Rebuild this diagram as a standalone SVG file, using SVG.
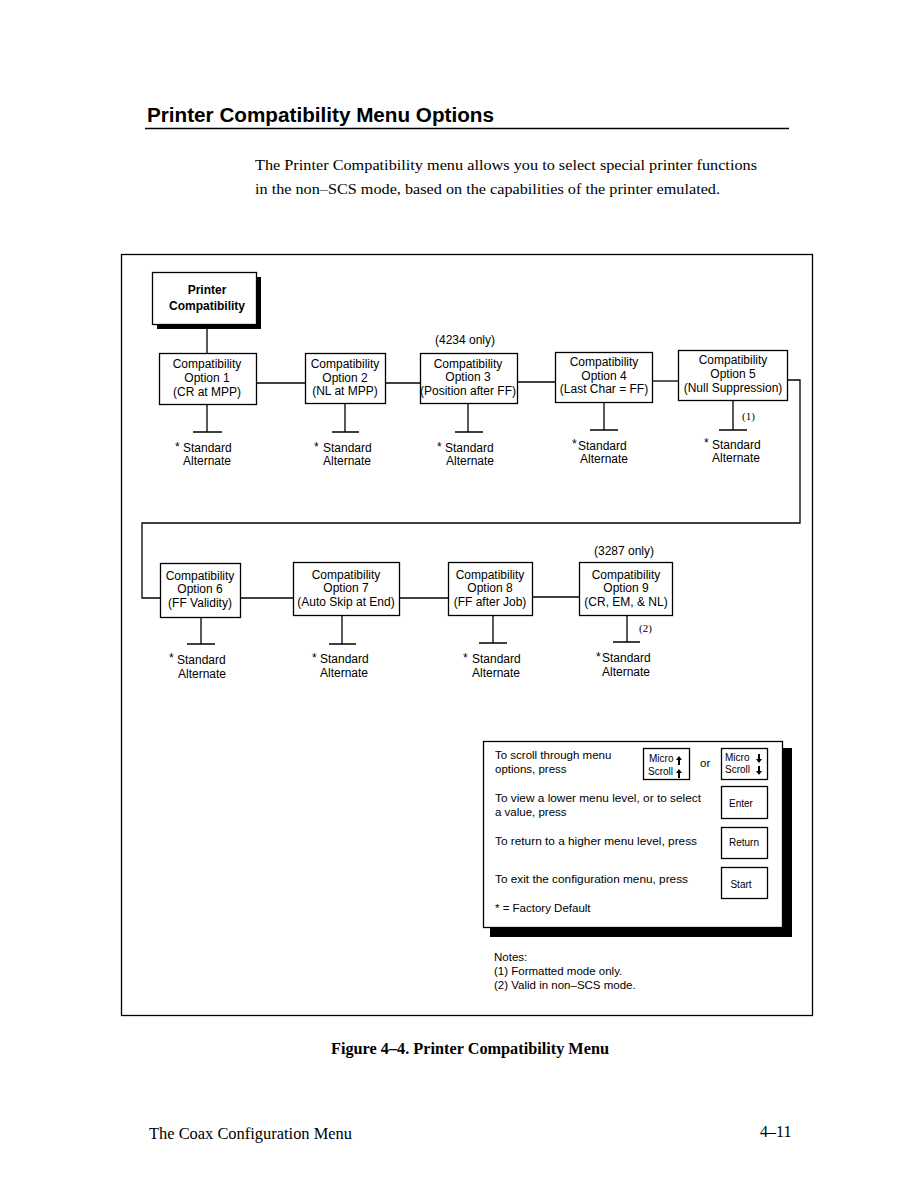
<svg xmlns="http://www.w3.org/2000/svg" width="918" height="1188" viewBox="0 0 918 1188">
<style>
.bx{fill:#fff;stroke:#000;stroke-width:1.3}
.ln{fill:none;stroke:#000;stroke-width:1.3}
.t{font-family:"Liberation Sans",Arial,sans-serif;font-size:12px;fill:#000}
.c{text-anchor:middle}
.s{font-family:"Liberation Sans",Arial,sans-serif;font-size:11.5px;fill:#000}
.k{font-family:"Liberation Sans",Arial,sans-serif;font-size:10px;fill:#000}
.sr{font-family:"Liberation Serif","Times New Roman",serif;fill:#000}
</style>
<rect width="918" height="1188" fill="#fff"/>
<g id="header">
<text x="147" y="122" font-family="Liberation Sans,Arial,sans-serif" font-weight="bold" font-size="20" textLength="347" lengthAdjust="spacingAndGlyphs">Printer Compatibility Menu Options</text>
<line x1="145" y1="128.5" x2="789" y2="128.5" stroke="#000" stroke-width="1.6"/>
<text class="sr" x="255" y="170" font-size="15" textLength="502" lengthAdjust="spacingAndGlyphs">The Printer Compatibility menu allows you to select special printer functions</text>
<text class="sr" x="255" y="194" font-size="15" textLength="465" lengthAdjust="spacingAndGlyphs">in the non–SCS mode, based on the capabilities of the printer emulated.</text>
</g>
<rect id="frame" x="121.5" y="254.5" width="691" height="761" fill="none" stroke="#000" stroke-width="1.3"/>
<g id="connectors">
<line class="ln" x1="207" y1="327" x2="207" y2="353"/>
<polyline class="ln" points="256,383 305,383"/>
<polyline class="ln" points="385,383 420,383"/>
<polyline class="ln" points="517,382 555,382"/>
<polyline class="ln" points="652,381 678,381"/>
<polyline class="ln" points="787,380 800,380 800,523 142,523 142,598 160,598"/>
<polyline class="ln" points="240,598 293,598"/>
<polyline class="ln" points="399,598 448,598"/>
<polyline class="ln" points="532,597 579,597"/>
<path class="ln" d="M207,404V432M193,432H222M345,403V432M332,432H359M468,403V432M455,432H483M604,402V430M590,430H618M733,401V430M719,430H747"/>
<path class="ln" d="M201,617V644M187,644H215M342,615V644M329,644H356M493,615V643M479,643H507M627,615V642M613,642H640"/>
</g>
<g id="root">
<rect x="157" y="277" width="104" height="52" fill="#000"/>
<rect class="bx" x="152.5" y="272.5" width="104" height="52"/>
<text class="t c" x="207" y="294" font-weight="bold" font-size="13">Printer</text>
<text class="t c" x="207" y="310" font-weight="bold" font-size="13">Compatibility</text>
</g>
<g id="opt1">
<rect class="bx" x="159.5" y="353.5" width="97" height="51"/>
<text class="t c" x="207" y="368">Compatibility</text>
<text class="t c" x="207" y="382">Option 1</text>
<text class="t c" x="207" y="396">(CR at MPP)</text>
<text class="t" x="175" y="451">*</text><text class="t" x="183" y="452">Standard</text><text class="t" x="183" y="465">Alternate</text>
</g>
<g id="opt2">
<rect class="bx" x="305.5" y="353.5" width="80" height="50"/>
<text class="t c" x="345" y="368">Compatibility</text>
<text class="t c" x="345" y="382">Option 2</text>
<text class="t c" x="345" y="395" font-size="11.5">(NL at MPP)</text>
<text class="t" x="314" y="451">*</text><text class="t" x="323" y="452">Standard</text><text class="t" x="323" y="465">Alternate</text>
</g>
<g id="opt3">
<text class="t c" x="465" y="344">(4234 only)</text>
<rect class="bx" x="420.5" y="353.5" width="97" height="50"/>
<text class="t c" x="468" y="368">Compatibility</text>
<text class="t c" x="468" y="381">Option 3</text>
<text class="t c" x="468" y="395" font-size="11.5" textLength="96" lengthAdjust="spacingAndGlyphs">(Position after FF)</text>
<text class="t" x="437" y="451">*</text><text class="t" x="445" y="452">Standard</text><text class="t" x="446" y="465">Alternate</text>
</g>
<g id="opt4">
<rect class="bx" x="555.5" y="352.5" width="97" height="50"/>
<text class="t c" x="604" y="366">Compatibility</text>
<text class="t c" x="604" y="380">Option 4</text>
<text class="t c" x="604" y="393" font-size="11.5">(Last Char = FF)</text>
<text class="t" x="572" y="448">*</text><text class="t" x="578" y="450">Standard</text><text class="t" x="580" y="463">Alternate</text>
</g>
<g id="opt5">
<rect class="bx" x="678.5" y="350.5" width="109" height="50"/>
<text class="t c" x="733" y="364">Compatibility</text>
<text class="t c" x="733" y="378">Option 5</text>
<text class="t c" x="733" y="392" font-size="11">(Null Suppression)</text>
<text class="sr" x="742" y="420" font-size="11">(1)</text>
<text class="t" x="704" y="447">*</text><text class="t" x="712" y="449">Standard</text><text class="t" x="712" y="462">Alternate</text>
</g>
<g id="opt6">
<rect class="bx" x="160.5" y="563.5" width="80" height="54"/>
<text class="t c" x="200" y="580">Compatibility</text>
<text class="t c" x="200" y="593">Option 6</text>
<text class="t c" x="200" y="607">(FF Validity)</text>
<text class="t" x="169" y="662">*</text><text class="t" x="177" y="664">Standard</text><text class="t" x="178" y="678">Alternate</text>
</g>
<g id="opt7">
<rect class="bx" x="293.5" y="562.5" width="106" height="53"/>
<text class="t c" x="346" y="579">Compatibility</text>
<text class="t c" x="346" y="592">Option 7</text>
<text class="t c" x="346" y="606">(Auto Skip at End)</text>
<text class="t" x="312" y="662">*</text><text class="t" x="320" y="663">Standard</text><text class="t" x="320" y="677">Alternate</text>
</g>
<g id="opt8">
<rect class="bx" x="448.5" y="562.5" width="84" height="53"/>
<text class="t c" x="490" y="579">Compatibility</text>
<text class="t c" x="490" y="592">Option 8</text>
<text class="t c" x="490" y="606">(FF after Job)</text>
<text class="t" x="463" y="662">*</text><text class="t" x="472" y="663">Standard</text><text class="t" x="472" y="677">Alternate</text>
</g>
<g id="opt9">
<text class="t c" x="624" y="555">(3287 only)</text>
<rect class="bx" x="579.5" y="562.5" width="93" height="53"/>
<text class="t c" x="626" y="579">Compatibility</text>
<text class="t c" x="626" y="592">Option 9</text>
<text class="t c" x="626" y="606">(CR, EM, &amp; NL)</text>
<text class="sr" x="639" y="632" font-size="11">(2)</text>
<text class="t" x="596" y="661">*</text><text class="t" x="602" y="662">Standard</text><text class="t" x="602" y="676">Alternate</text>
</g>
<g id="legend">
<rect x="490" y="748" width="302" height="189" fill="#000"/>
<rect class="bx" x="483.5" y="741.5" width="299" height="186"/>
<text class="s" x="495" y="759">To scroll through menu</text>
<text class="s" x="495" y="773">options, press</text>
<rect class="bx" x="643.5" y="748.5" width="46" height="31"/>
<text class="k" x="649" y="762">Micro</text><text class="k" x="648" y="775">Scroll</text>
<path d="M679,756l-3,4h2v5h2v-5h2z M679,769l-3,4h2v5h2v-5h2z" fill="#000"/>
<text class="s" x="700" y="767">or</text>
<rect class="bx" x="721.5" y="748.5" width="46" height="31"/>
<text class="k" x="725" y="761">Micro</text><text class="k" x="725" y="773">Scroll</text>
<path d="M758,754v5h-2l3,4l3,-4h-2v-5z M758,766v5h-2l3,4l3,-4h-2v-5z" fill="#000"/>
<text class="s" x="495" y="802" textLength="206" lengthAdjust="spacingAndGlyphs">To view a lower menu level, or to select</text>
<text class="s" x="495" y="816">a value, press</text>
<rect class="bx" x="721.5" y="786.5" width="46" height="32"/>
<text class="k c" x="741" y="807">Enter</text>
<text class="s" x="495" y="845" textLength="202" lengthAdjust="spacingAndGlyphs">To return to a higher menu level, press</text>
<rect class="bx" x="721.5" y="827.5" width="46" height="31"/>
<text class="k c" x="744" y="846" font-size="9.5">Return</text>
<text class="s" x="495" y="883" textLength="193" lengthAdjust="spacingAndGlyphs">To exit the configuration menu, press</text>
<rect class="bx" x="721.5" y="867.5" width="46" height="31"/>
<text class="k c" x="741" y="888">Start</text>
<text class="s" x="495" y="912" font-size="11">* = Factory Default</text>
</g>
<g id="notes">
<text class="s" x="494" y="961" font-size="11">Notes:</text>
<text class="s" x="494" y="975" font-size="11">(1) Formatted mode only.</text>
<text class="s" x="494" y="989" font-size="11">(2) Valid in non–SCS mode.</text>
</g>
<g id="footer">
<text class="sr" x="331" y="1054" font-size="16" font-weight="bold" textLength="278" lengthAdjust="spacingAndGlyphs">Figure 4–4. Printer Compatibility Menu</text>
<text class="sr" x="149" y="1139" font-size="16" textLength="203" lengthAdjust="spacingAndGlyphs">The Coax Configuration Menu</text>
<text class="sr" x="760" y="1137" font-size="16">4–11</text>
</g>
</svg>
